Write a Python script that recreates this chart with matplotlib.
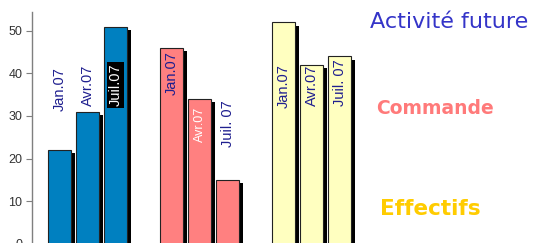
import matplotlib
matplotlib.use("Agg")
import matplotlib.pyplot as plt
import matplotlib.patheffects as pe

# ---- data ----
groups = ["Activité future", "Commande", "Effectifs"]
periods = [["Jan.07", "Avr.07", "Juil.07"],
           ["Jan.07", "Avr.07", "Juil. 07"],
           ["Jan.07", "Avr.07", "Juil. 07"]]
values = [[22, 31, 51],
          [46, 34, 15],
          [52, 42, 44]]
yticks = [0, 10, 20, 30, 40, 50]

# ---- styles ----
bar_colors = ["#0080c0", "#ff8080", "#ffffc0"]
legend_colors = ["#3434c8", "#ff7a7a", "#ffcc00"]
legend_pos = [(370, 22), (376, 108), (380, 209)]   # figure pixels (left, center)
legend_weight = ["normal", "bold", "bold"]
legend_size = [16, 13.5, 15.5]
# label top position (data units), text color, background, size
label_top = [[41.6, 42.1, 42.3], [45.2, 32.2, 33.8], [42.1, 42.1, 43.3]]
label_col = [["#1f1f8f", "#1f1f8f", "white"],
             ["#1f1f8f", "white", "#1f1f8f"],
             ["#1f1f8f", "#1f1f8f", "#1f1f8f"]]
label_bg = [[None, None, "black"], [None, None, None], [None, None, None]]
label_size = [[10.5, 10.5, 10.5], [10.5, 9, 10.5], [10.5, 10.5, 10.5]]

W, H = 547, 243
fig = plt.figure(figsize=(W / 100, H / 100), dpi=100)
px_per_unit = 4.25
y0_px = 243.5
top_px = 12
ax = fig.add_axes([32 / W, (H - y0_px) / H, (W - 32) / W, (y0_px - top_px) / H])
ax.set_ylim(0, (y0_px - top_px) / px_per_unit)
step = 28.0
ax.set_xlim((32 - 59.5) / step, (W - 59.5) / step)

shadow = [pe.SimplePatchShadow(offset=(2.9, -2.2), shadow_rgbFace="black", alpha=1.0), pe.Normal()]

for g, (vals, labs) in enumerate(zip(values, periods)):
    xs = [4 * g + i for i in range(len(vals))]
    bars = ax.bar(xs, vals, width=23 / step, color=bar_colors[g],
                  edgecolor="#222222", linewidth=0.8, zorder=2)
    for b in bars:
        b.set_path_effects(shadow)
    for i, (x, lab) in enumerate(zip(xs, labs)):
        kw = {}
        if label_bg[g][i]:
            kw["bbox"] = dict(facecolor=label_bg[g][i], edgecolor="none", pad=1.0)
        ax.text(x, label_top[g][i], lab, rotation=90, ha="center", va="top",
                color=label_col[g][i], fontsize=label_size[g][i],
                family="Liberation Sans", zorder=5, **kw)

for spine in ["top", "right", "bottom"]:
    ax.spines[spine].set_visible(False)
ax.spines["left"].set_color("#7f7f7f")
ax.spines["left"].set_linewidth(1.0)
ax.set_yticks(yticks)
ax.tick_params(axis="y", direction="out", length=4, color="#7f7f7f",
               labelsize=9, labelcolor="#333333", pad=3)
for t in ax.get_yticklabels():
    t.set_family("Liberation Sans")
ax.set_xticks([])

for name, col, (lx, ly), wt, fs in zip(groups, legend_colors, legend_pos, legend_weight, legend_size):
    fig.text(lx / W, 1 - ly / H, name, color=col, fontsize=fs, fontweight=wt,
             ha="left", va="center", family="DejaVu Sans")

fig.savefig("out.png", dpi=100)
